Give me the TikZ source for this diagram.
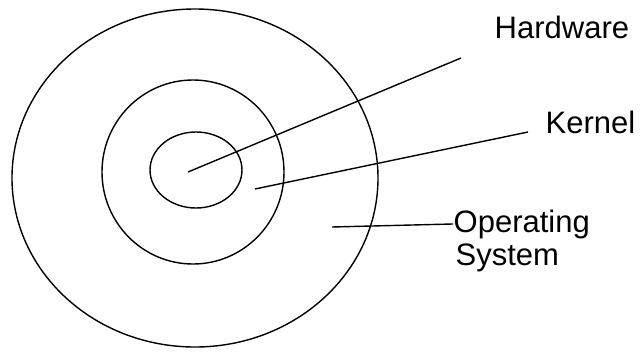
\documentclass[tikz,border=0pt]{standalone}
\usepackage{fontspec}
\setmainfont{Liberation Sans}
\usetikzlibrary{positioning}

\begin{document}
\begin{tikzpicture}[x=1pt,y=-1pt,line width=1.4pt,
  lbl/.style={anchor=base west,inner sep=0pt,font=\fontsize{31}{33}\selectfont}]
\useasboundingbox (0,0) rectangle (640,351);
% rings
\draw (195,178) ellipse [x radius=183,y radius=169];
\draw (193,172) ellipse [x radius=91,y radius=92];
\draw (196,170) ellipse [x radius=46,y radius=38];
% labels
\node[lbl] (hw) at (494,38) {Hardware};
\node[lbl] (kern) at (545,133) {Kernel};
\node[lbl] (os) at (453,232) {Operating};
\node[lbl] (sys) at (455,265) {System};
% pointers
\coordinate (hwin) at (188,172);
\coordinate (hwend) at (461,58);
\coordinate (kin) at (255,189);
\coordinate (kend) at (528,132);
\coordinate (osin) at (332,227);
\draw (hwin) -- (hwend);
\draw (kin) -- (kend);
\draw (osin) -- (os.west);
\end{tikzpicture}
\end{document}
